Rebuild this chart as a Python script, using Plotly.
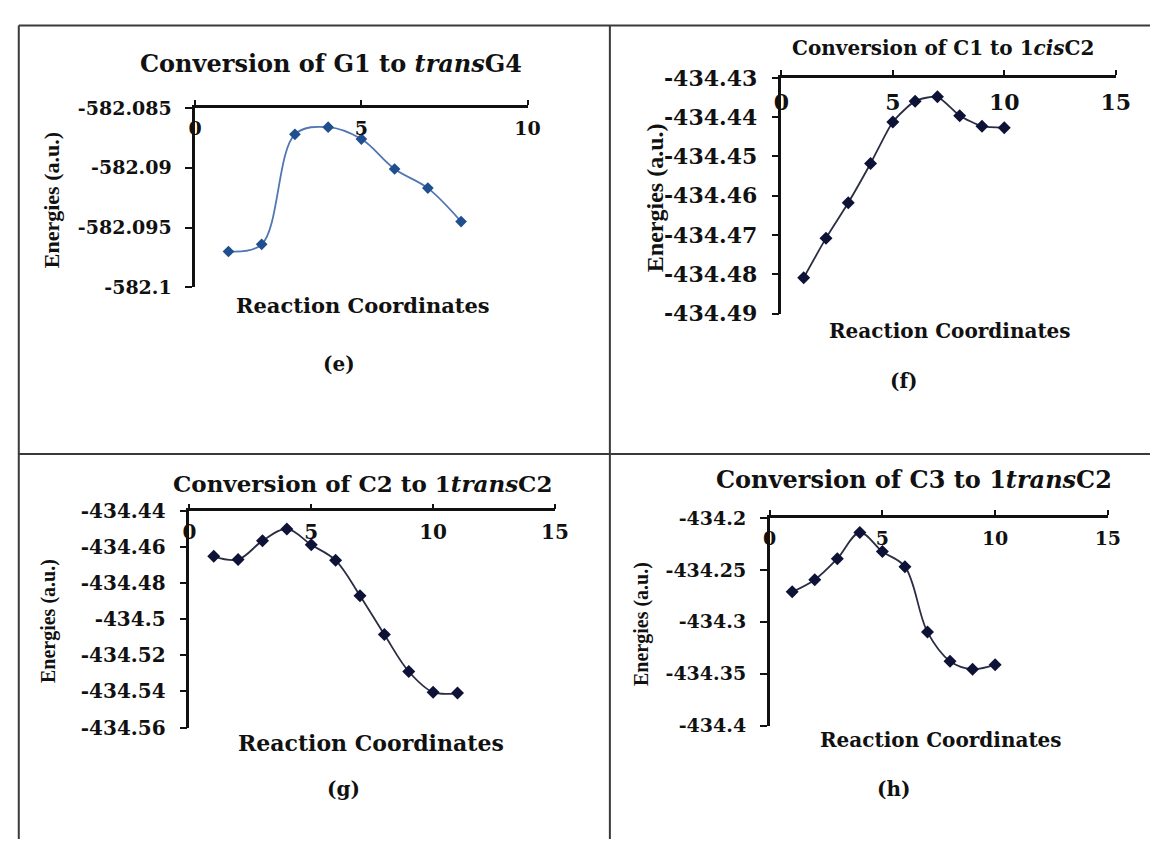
import plotly.graph_objects as go

W, H = 1165, 852

# ---------------- data ----------------
e_x = [1, 2, 3, 4, 5, 6, 7, 8]
e_y = [-582.0970, -582.0964, -582.0872, -582.0866, -582.0876, -582.0901, -582.0917, -582.0945]

f_x = [1, 2, 3, 4, 5, 6, 7, 8, 9, 10]
f_y = [-434.4809, -434.4708, -434.4618, -434.4518, -434.4412, -434.4359, -434.4348, -434.4396, -434.4423, -434.4427]

g_x = [1, 2, 3, 4, 5, 6, 7, 8, 9, 10, 11]
g_y = [-434.4650, -434.4668, -434.4564, -434.4498, -434.4586, -434.4672, -434.4868, -434.5084, -434.5289, -434.5404, -434.5409]

h_x = [1, 2, 3, 4, 5, 6, 7, 8, 9, 10]
h_y = [-434.2711, -434.2594, -434.2391, -434.2139, -434.2323, -434.2468, -434.3099, -434.3379, -434.3456, -434.3413]

e_yticks = [-582.1, -582.095, -582.09, -582.085]
e_ytext = ["-582.1", "-582.095", "-582.09", "-582.085"]
f_yticks = [-434.49, -434.48, -434.47, -434.46, -434.45, -434.44, -434.43]
f_ytext = ["-434.49", "-434.48", "-434.47", "-434.46", "-434.45", "-434.44", "-434.43"]
g_yticks = [-434.56, -434.54, -434.52, -434.5, -434.48, -434.46, -434.44]
g_ytext = ["-434.56", "-434.54", "-434.52", "-434.5", "-434.48", "-434.46", "-434.44"]
h_yticks = [-434.4, -434.35, -434.3, -434.25, -434.2]
h_ytext = ["-434.4", "-434.35", "-434.3", "-434.25", "-434.2"]

titles = ["Conversion of G1 to <i>trans</i>G4",
          "Conversion of C1 to 1<i>cis</i>C2",
          "Conversion of C2 to 1<i>trans</i>C2",
          "Conversion of C3 to 1<i>trans</i>C2"]
panel_labels = ["(e)", "(f)", "(g)", "(h)"]
xlabel = "Reaction Coordinates"
ylabel = "Energies (a.u.)"


def px(x):
    return x / W


def py(y):
    return 1 - y / H


SERIF = "DejaVu Serif"

fig = go.Figure()

panels = [
    dict(x=e_x, y=e_y, xmax=10, yr=[-582.1, -582.085], tv=e_yticks, tt=e_ytext,
         dx=[191, 530], dy=[98, 283], lc="#5077b2", mc="#1f4f8f", ms=9, tf=19, sm=1.0, so=15),
    dict(x=f_x, y=f_y, xmax=15, yr=[-434.49, -434.43], tv=f_yticks, tt=f_ytext,
         dx=[789, 1130], dy=[67, 310], lc="#2b2d45", mc="#0e1236", ms=10, tf=22, sm=0.6, so=18),
    dict(x=g_x, y=g_y, xmax=15, yr=[-434.56, -434.44], tv=g_yticks, tt=g_ytext,
         dx=[185, 558], dy=[514, 737], lc="#2b2d45", mc="#0e1236", ms=10, tf=20, sm=1.0, so=15),
    dict(x=h_x, y=h_y, xmax=15, yr=[-434.4, -434.2], tv=h_yticks, tt=h_ytext,
         dx=[777, 1122], dy=[521, 735], lc="#2b2d45", mc="#0e1236", ms=10, tf=19, sm=1.0, so=15),
]

layout_axes = {}
for i, p in enumerate(panels):
    n = "" if i == 0 else str(i + 1)
    fig.add_trace(go.Scatter(
        x=p["x"], y=p["y"], mode="lines+markers",
        line=dict(color=p["lc"], width=1.8, shape="spline", smoothing=p["sm"]),
        marker=dict(symbol="diamond", size=p["ms"], color=p["mc"]),
        xaxis="x" + n, yaxis="y" + n, showlegend=False, hoverinfo="skip"))
    layout_axes["xaxis" + n] = dict(
        domain=[px(p["dx"][0]), px(p["dx"][1])], anchor="y" + n,
        range=[0, p["xmax"]], tick0=0, dtick=5, side="top",
        showline=True, linecolor="#111111", linewidth=2.5,
        ticks="outside", ticklen=5, tickwidth=2, tickcolor="#111111",
        ticklabelposition="inside", ticklabeloverflow="allow", ticklabelstandoff=p["so"],
        showgrid=False, zeroline=False,
        tickfont=dict(family=SERIF, size=p["tf"], color="#111111", weight="bold"))
    layout_axes["yaxis" + n] = dict(
        domain=[py(p["dy"][1]), py(p["dy"][0])], anchor="x" + n,
        range=p["yr"], tickvals=p["tv"], ticktext=p["tt"],
        showline=True, linecolor="#111111", linewidth=2.5,
        ticks="outside", ticklen=7, tickwidth=2, tickcolor="#111111",
        ticklabelstandoff=10,
        showgrid=False, zeroline=False,
        tickfont=dict(family=SERIF, size=p["tf"], color="#111111", weight="bold"))

ann = []
title_pos = [(330, 52, 24), (954, 36, 20), (362, 485, 23), (924, 481, 24)]
xl_pos = [(362, 302, 21), (961, 328, 20), (370, 753, 22), (952, 750, 20)]
lab_pos = [(338, 362), (914, 380), (342, 800), (903, 800)]
yl_pos = [(44, 193, 22), (660, 190, 24), (42, 627, 20), (647, 630, 20)]
for i in range(4):
    tx, ty, ts = title_pos[i]
    ann.append(dict(x=px(tx), y=py(ty), xref="paper", yref="paper", text=titles[i],
                    showarrow=False, xanchor="center", yanchor="middle",
                    font=dict(family=SERIF, size=ts, color="#111111", weight="bold")))
    lx, ly, ls = xl_pos[i]
    ann.append(dict(x=px(lx), y=py(ly), xref="paper", yref="paper", text=xlabel,
                    showarrow=False, xanchor="center", yanchor="middle",
                    font=dict(family=SERIF, size=ls, color="#111111", weight="bold")))
    bx, by = lab_pos[i]
    ann.append(dict(x=px(bx), y=py(by), xref="paper", yref="paper", text=panel_labels[i],
                    showarrow=False, xanchor="center", yanchor="middle",
                    font=dict(family=SERIF, size=20, color="#111111", weight="bold")))
    yx, yy, ys = yl_pos[i]
    ann.append(dict(x=px(yx), y=py(yy), xref="paper", yref="paper", text=ylabel,
                    showarrow=False, xanchor="center", yanchor="middle", textangle=-90,
                    font=dict(family="Liberation Serif", size=ys, color="#111111", weight="bold")))

border = "#3a3a3a"
shapes = [
    dict(type="line", xref="paper", yref="paper", x0=px(11), x1=px(11), y0=py(13), y1=0,
         line=dict(color=border, width=2)),
    dict(type="line", xref="paper", yref="paper", x0=px(11), x1=1, y0=py(13), y1=py(13),
         line=dict(color=border, width=2)),
    dict(type="line", xref="paper", yref="paper", x0=px(614), x1=px(614), y0=py(13), y1=0,
         line=dict(color=border, width=2)),
    dict(type="line", xref="paper", yref="paper", x0=px(11), x1=1, y0=py(455), y1=py(455),
         line=dict(color=border, width=2)),
]

fig.update_layout(
    width=W, height=H, margin=dict(l=0, r=0, t=0, b=0),
    paper_bgcolor="white", plot_bgcolor="white",
    annotations=ann, shapes=shapes, **layout_axes)

fig.write_html("out.html", include_plotlyjs=True, config={"displayModeBar": False})
